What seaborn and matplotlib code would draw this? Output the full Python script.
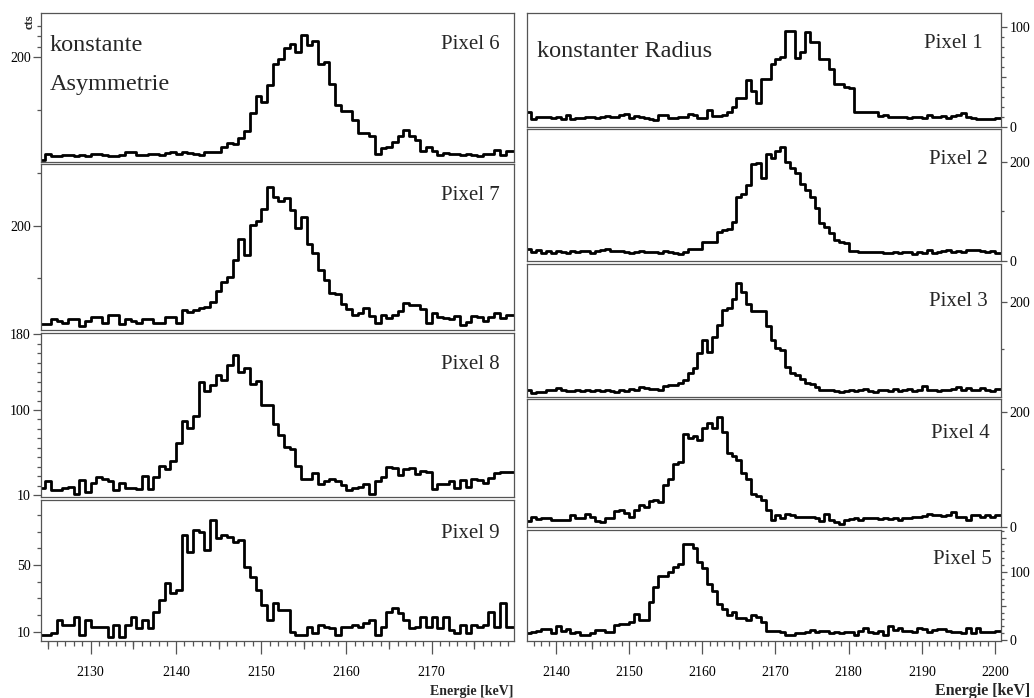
import numpy as np
import pandas as pd
import matplotlib
matplotlib.use("Agg")
import matplotlib.pyplot as plt
import seaborn as sns

sns.set_theme(style="ticks")
plt.rcParams["font.family"] = ["Liberation Serif", "DejaVu Serif"]
plt.rcParams["axes.linewidth"] = 0.9

W, H = 1034, 698
BIN_WIDTH = 2.0 / 3.0
FRAME = "#555555"

# ---- spectra (counts per bin) ----
left_start = 2124.0
right_start = 2136.0

pixel6 = [103, 108, 106, 106, 107, 107, 106, 107, 106, 108,
          108, 107, 106, 106, 107, 110, 110, 107, 107, 108,
          108, 107, 109, 110, 108, 110, 109, 108, 107, 110,
          110, 110, 115, 119, 118, 123, 130, 147, 163, 158,
          174, 194, 198, 209, 213, 205, 221, 212, 215, 194,
          196, 175, 155, 149, 149, 141, 128, 128, 125, 108,
          114, 115, 120, 125, 131, 125, 122, 111, 115, 111,
          107, 109, 108, 108, 107, 108, 107, 106, 108, 108,
          112, 107, 111, 111]
pixel7 = [107, 107, 111, 110, 108, 111, 111, 105, 110, 113,
          113, 108, 115, 115, 107, 111, 110, 108, 111, 111,
          108, 108, 113, 113, 108, 120, 118, 120, 122, 123,
          128, 138, 147, 151, 167, 187, 172, 201, 204, 216,
          237, 227, 223, 226, 215, 198, 208, 183, 174, 158,
          148, 136, 135, 126, 121, 115, 117, 122, 114, 108,
          115, 112, 115, 119, 127, 125, 125, 121, 108, 117,
          113, 112, 111, 114, 106, 109, 114, 113, 110, 113,
          117, 112, 115, 115]
pixel8 = [18, 25, 16, 16, 18, 19, 12, 26, 14, 23,
          29, 27, 25, 16, 23, 18, 18, 17, 30, 17,
          29, 41, 38, 46, 65, 88, 81, 94, 129, 120,
          126, 137, 132, 147, 158, 140, 144, 127, 131, 105,
          105, 85, 74, 61, 59, 41, 27, 27, 34, 22,
          25, 27, 25, 21, 16, 18, 19, 22, 12, 25,
          29, 40, 39, 32, 38, 39, 33, 36, 35, 17,
          22, 22, 25, 18, 26, 19, 27, 26, 23, 28,
          34, 35, 35, 35]
pixel9 = [8, 8, 9, 17, 14, 14, 19, 8, 17, 13,
          13, 13, 7, 14, 7, 14, 19, 12, 17, 12,
          22, 29, 39, 33, 35, 68, 58, 71, 70, 59,
          77, 66, 68, 67, 64, 65, 49, 43, 35, 26,
          17, 27, 23, 23, 10, 8, 8, 13, 9, 14,
          13, 12, 8, 13, 13, 14, 13, 15, 17, 8,
          13, 22, 24, 21, 17, 12, 13, 19, 13, 19,
          12, 19, 11, 9, 14, 9, 14, 13, 14, 22,
          13, 27, 13, 13]

pixel1 = [15, 8, 10, 10, 10, 9, 10, 8, 12, 8,
          9, 9, 10, 10, 9, 10, 11, 10, 10, 12,
          13, 9, 11, 10, 9, 8, 7, 12, 12, 9,
          9, 10, 10, 13, 12, 9, 9, 17, 11, 11,
          12, 15, 20, 29, 29, 47, 36, 24, 48, 48,
          63, 68, 70, 96, 96, 69, 75, 95, 85, 85,
          68, 68, 58, 43, 43, 40, 39, 15, 15, 15,
          15, 15, 11, 12, 10, 10, 10, 10, 9, 10,
          10, 9, 12, 10, 10, 11, 9, 11, 12, 14,
          10, 9, 8, 8, 8, 8, 9, 9]
pixel2 = [24, 19, 22, 17, 20, 17, 20, 19, 16, 20,
          19, 21, 20, 17, 20, 22, 24, 21, 21, 20,
          18, 17, 19, 20, 19, 18, 18, 17, 20, 18,
          17, 15, 18, 25, 25, 25, 38, 38, 38, 59,
          62, 64, 79, 129, 136, 153, 195, 197, 168, 215,
          207, 221, 230, 199, 188, 178, 156, 143, 128, 106,
          76, 69, 56, 42, 39, 36, 20, 20, 19, 19,
          18, 18, 18, 16, 17, 19, 16, 18, 19, 15,
          19, 16, 22, 16, 18, 20, 22, 18, 21, 19,
          22, 22, 22, 20, 18, 20, 17, 17]
pixel3 = [13, 7, 10, 10, 13, 13, 17, 13, 11, 12,
          13, 12, 13, 12, 13, 11, 13, 12, 10, 13,
          12, 15, 13, 19, 17, 15, 15, 14, 22, 25,
          25, 28, 34, 49, 60, 91, 119, 93, 125, 151,
          182, 186, 205, 240, 221, 196, 181, 181, 181, 149,
          119, 102, 98, 62, 50, 46, 36, 28, 27, 19,
          14, 14, 14, 12, 10, 12, 14, 11, 13, 15,
          12, 10, 14, 13, 11, 15, 12, 14, 16, 12,
          14, 22, 13, 13, 12, 14, 14, 15, 20, 14,
          17, 14, 13, 18, 14, 12, 16, 16]
pixel4 = [10, 18, 14, 15, 15, 12, 12, 12, 12, 20,
          16, 16, 22, 18, 10, 8, 16, 16, 27, 30,
          25, 18, 30, 39, 34, 45, 47, 43, 73, 84,
          110, 113, 161, 155, 158, 151, 172, 180, 171, 190,
          165, 128, 124, 116, 93, 84, 58, 53, 47, 30,
          12, 20, 16, 22, 20, 18, 18, 18, 18, 16,
          10, 22, 12, 9, 6, 12, 14, 15, 13, 16,
          15, 15, 14, 16, 14, 15, 13, 15, 15, 17,
          17, 19, 22, 20, 20, 19, 20, 26, 18, 18,
          13, 20, 20, 17, 20, 17, 20, 20]
pixel5 = [10, 11, 13, 16, 16, 10, 20, 13, 16, 10,
          11, 7, 7, 10, 15, 15, 12, 11, 22, 24,
          24, 27, 38, 29, 29, 55, 78, 94, 94, 100,
          107, 111, 140, 140, 134, 114, 105, 82, 71, 52,
          46, 37, 41, 32, 32, 29, 36, 33, 27, 13,
          13, 13, 11, 7, 7, 10, 10, 12, 15, 12,
          13, 13, 10, 11, 10, 11, 11, 8, 13, 18,
          12, 10, 13, 7, 21, 15, 17, 13, 13, 12,
          18, 16, 12, 15, 16, 16, 13, 12, 12, 10,
          18, 10, 17, 11, 12, 12, 13, 13]

# ---- axis scales and labels ----
left_xlim = (2124.2, 2179.6)
right_xlim = (2136.1, 2200.8)
left_xticks = [2130, 2140, 2150, 2160, 2170]
right_xticks = [2140, 2150, 2160, 2170, 2180, 2190, 2200]
x_label = "Energie [keV]"
y_label = "cts"
left_title = ["konstante", "Asymmetrie"]
right_title = "konstanter Radius"

TENS_1 = [10, 20, 30, 40, 60, 70, 80, 90]
TENS_5 = [10, 20, 30, 40, 60, 70, 80, 90, 110, 120, 130, 140, 160]

# name, counts, ylim, labelled ticks, medium ticks, small ticks
left_panels = [
    ("Pixel 6", pixel6, (100.7, 242.0), [200], [], [150, 210, 220, 230]),
    ("Pixel 7", pixel7, (101.0, 258.1), [200], [], [150, 250]),
    ("Pixel 8", pixel8, (8.4, 181.6), [10, 100, 180], [],
     [20, 30, 40, 50, 60, 70, 80, 90, 110, 120, 130, 140, 150, 160, 170]),
    ("Pixel 9", pixel9, (4.4, 89.3), [10, 50], [], [20, 30, 40, 60, 70, 80]),
]
right_panels = [
    ("Pixel 1", pixel1, (0, 113.5), [0, 100], [50], TENS_1),
    ("Pixel 2", pixel2, (0, 266.0), [0, 200], [], [100]),
    ("Pixel 3", pixel3, (0, 280.6), [200], [], [100]),
    ("Pixel 4", pixel4, (0, 222.0), [0, 200], [], [100]),
    ("Pixel 5", pixel5, (-1.5, 161.8), [0, 100], [50, 150], TENS_5),
]

# ---- layout in pixels: (x0, x1), panel (top, bottom), label (right edge, baseline) ----
left_cols = (41.3, 513.5)
right_cols = (527.3, 1001.0)
left_rows = [(13, 162), (164.5, 330), (332.5, 497), (499.5, 641)]
right_rows = [(13, 126.5), (129, 261), (263.5, 396.5), (399, 527), (529.5, 641)]
left_name_pos = [(500, 49.3), (500, 200), (500, 369.3), (500, 538.3)]
right_name_pos = [(983, 48.3), (988, 164), (988, 306), (990, 438), (992, 564)]

fig = plt.figure(figsize=(W / 100, H / 100), dpi=100)


def fx(px):
    return px / W


def fy(py):
    return 1 - py / H


def draw_panel(cols, row, name, counts, start, ylim, major, medium, minor,
               side, is_bottom, xlim, xticks, name_pos):
    x0, x1 = cols
    top, bot = row
    ax = fig.add_axes([fx(x0), fy(bot), (x1 - x0) / W, (bot - top) / H])
    nbins = len(counts)
    lo = start
    hi = start + BIN_WIDTH * nbins
    centers = lo + BIN_WIDTH * (np.arange(nbins) + 0.5)
    df = pd.DataFrame({"energy": centers, "cts": counts})
    sns.histplot(data=df, x="energy", weights="cts", bins=nbins,
                 binrange=(lo, hi), element="step", fill=False,
                 color="black", linewidth=2.0, ax=ax)
    ax.set_xlim(*xlim)
    ax.set_ylim(*ylim)
    ax.set_xlabel("")
    ax.set_ylabel("")
    for sp in ax.spines.values():
        sp.set_visible(True)
        sp.set_color(FRAME)
        sp.set_linewidth(0.9)

    ax.set_yticks(major)
    ax.set_yticklabels([str(v) for v in major])
    ax.set_yticks(minor, minor=True)
    if side == "left":
        ax.yaxis.tick_left()
        ax.tick_params(axis="y", which="major", length=5.8, pad=1.8)
        ax.tick_params(axis="y", which="minor", length=2.9)
    else:
        ax.yaxis.tick_right()
        ax.tick_params(axis="y", which="major", length=4.5, pad=1.5)
        ax.tick_params(axis="y", which="minor", length=2.2)
    ax.tick_params(axis="y", which="both", direction="out", width=0.9,
                   color=FRAME, labelsize=10, labelcolor="black")
    if medium:
        sec = ax.secondary_yaxis(side)
        sec.set_yticks(medium)
        sec.set_yticklabels([""] * len(medium))
        sec.tick_params(axis="y", direction="out", length=3.5, width=0.9,
                        color=FRAME)
        sec.spines[side].set_visible(False)

    if is_bottom:
        ax.set_xticks(xticks)
        ax.set_xticklabels([str(v) for v in xticks])
        ax.set_xticks(np.arange(np.ceil(xlim[0]), xlim[1], 1.0), minor=True)
        ax.tick_params(axis="x", which="major", direction="out", length=9.1,
                       width=0.9, color=FRAME, labelsize=10, pad=9,
                       labelcolor="black")
        ax.tick_params(axis="x", which="minor", direction="out", length=3.4,
                       width=0.9, color=FRAME)
        half = [v - 5 for v in xticks] + [xticks[-1] + 5]
        half = [v for v in half if xlim[0] < v < xlim[1]]
        mid = ax.secondary_xaxis("bottom")
        mid.set_xticks(half)
        mid.set_xticklabels([""] * len(half))
        mid.tick_params(axis="x", direction="out", length=5.5, width=0.9,
                        color=FRAME)
        mid.spines["bottom"].set_visible(False)
    else:
        ax.tick_params(axis="x", which="both", bottom=False, labelbottom=False)

    fig.text(fx(name_pos[0]), fy(name_pos[1]), name, fontsize=15,
             ha="right", va="baseline")
    return ax


for i, (name, counts, ylim, major, medium, minor) in enumerate(left_panels):
    draw_panel(left_cols, left_rows[i], name, counts, left_start, ylim, major,
               medium, minor, "left", i == len(left_panels) - 1, left_xlim,
               left_xticks, left_name_pos[i])

for i, (name, counts, ylim, major, medium, minor) in enumerate(right_panels):
    draw_panel(right_cols, right_rows[i], name, counts, right_start, ylim,
               major, medium, minor, "right", i == len(right_panels) - 1,
               right_xlim, right_xticks, right_name_pos[i])

fig.text(fx(49.3), fy(50.7), left_title[0], fontsize=17.5, ha="left", va="baseline")
fig.text(fx(49.3), fy(90.0), left_title[1], fontsize=17.5, ha="left", va="baseline")
fig.text(fx(537.3), fy(56.7), right_title, fontsize=17.5, ha="left", va="baseline")

fig.text(fx(513.5), fy(695), x_label, fontsize=10, fontweight="bold",
         ha="right", va="baseline")
fig.text(fx(1030), fy(695), x_label, fontsize=11.5, fontweight="bold",
         ha="right", va="baseline")
fig.text(fx(30), fy(22), y_label, fontsize=9, fontweight="bold",
         rotation=90, ha="center", va="center")

fig.savefig("out.png", dpi=100)
